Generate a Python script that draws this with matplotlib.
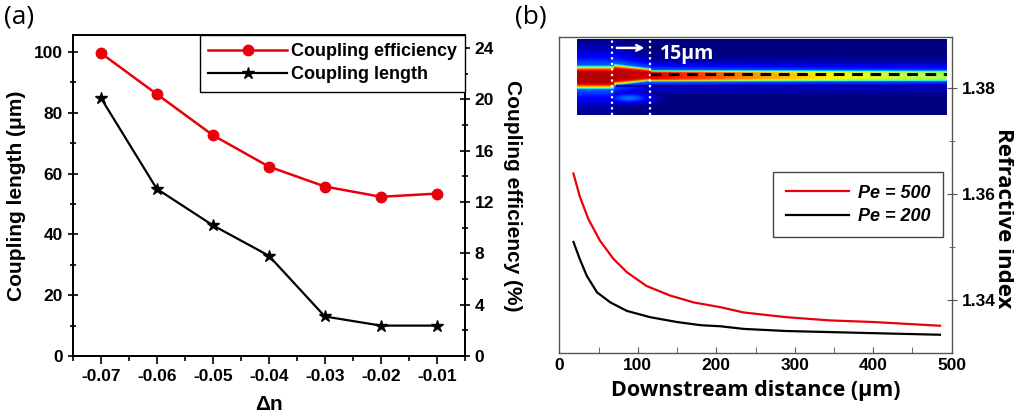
import numpy as np
import matplotlib
matplotlib.use('Agg')
import matplotlib.pyplot as plt
from matplotlib.lines import Line2D

# panel (a) data
delta_n = [-0.07, -0.06, -0.05, -0.04, -0.03, -0.02, -0.01]
coupling_length = [85, 55, 43, 33, 13, 10, 10]  # um
coupling_eff = [23.6, 20.4, 17.2, 14.75, 13.2, 12.4, 12.65]  # %

# panel (b) data
dist_500 = [18, 26, 37, 52, 69, 86, 111, 141, 171, 205, 235, 290, 345, 400, 485]
n_500 = [1.3639, 1.3596, 1.3553, 1.3512, 1.3478, 1.3453, 1.3427, 1.3409, 1.3396, 1.3387,
         1.3377, 1.3368, 1.3362, 1.3359, 1.3352]
dist_200 = [18, 26, 35, 48, 65, 86, 116, 150, 180, 205, 235, 290, 345, 400, 485]
n_200 = [1.3510, 1.3478, 1.3446, 1.3415, 1.3396, 1.3380, 1.3368, 1.3359, 1.3353, 1.3351,
         1.3346, 1.3342, 1.3340, 1.3338, 1.3335]

# inset field: intensity of the upper channel along its length (fraction of width)
chan_x = [0.0, 0.1, 0.2, 0.35, 0.5, 0.7, 0.85, 1.0]
chan_val = [1.0, 1.0, 0.97, 0.88, 0.78, 0.68, 0.62, 0.58]

BOLD = dict(family='Liberation Sans', weight='bold')
OPEN = dict(family='Open Sans', weight='bold')

fig = plt.figure(figsize=(10.14, 4.16), dpi=100)

# ---------------- panel (a) ----------------
ax = fig.add_axes([0.0717, 0.1442, 0.3869, 0.7716])
ax_r = ax.twinx()

ax.plot(delta_n, coupling_length, color='black', lw=1.6, marker='*', ms=9, zorder=3)
ax_r.plot(delta_n, coupling_eff, color='#e8000b', lw=1.8, marker='o', ms=7.5,
          markeredgecolor='#e8000b', zorder=3)

ax.set_xlim(-0.075, -0.005)
ax.set_ylim(0, 105.6)
ax_r.set_ylim(0, 25)
ax.set_xticks(delta_n)
ax.set_xticks(np.arange(-0.075, -0.004, 0.005), minor=True)
ax.set_xticklabels([f'{v:.2f}' for v in delta_n])
ax.set_yticks(range(0, 101, 20))
ax.set_yticks(range(10, 101, 20), minor=True)
ax_r.set_yticks(range(0, 25, 4))
ax_r.set_yticks(range(2, 25, 4), minor=True)

for a in (ax, ax_r):
    for s in a.spines.values():
        s.set_linewidth(1.3)
    for lab in a.get_xticklabels() + a.get_yticklabels():
        lab.set_fontproperties(BOLD)
        lab.set_fontsize(12.5)
ax.tick_params(axis='x', which='major', direction='out', length=6, width=1.2)
ax.tick_params(axis='x', which='minor', direction='out', length=3.5, width=1.2)
ax.tick_params(axis='y', which='major', direction='inout', length=7, width=1.2)
ax.tick_params(axis='y', which='minor', direction='inout', length=5, width=1.2)
ax_r.tick_params(axis='y', which='major', direction='inout', length=7, width=1.2)
ax_r.tick_params(axis='y', which='minor', direction='inout', length=5, width=1.2)

ax.set_xlabel('Δn', fontsize=15, labelpad=8, **BOLD)
ax.set_ylabel('Coupling length (μm)', fontsize=15, labelpad=6, **BOLD)
ax_r.set_ylabel('Coupling efficiency (%)', fontsize=15, rotation=270, labelpad=20, **BOLD)

handles = [Line2D([], [], color='#e8000b', lw=1.8, marker='o', ms=7.5),
           Line2D([], [], color='black', lw=1.6, marker='*', ms=9)]
leg = ax_r.legend(handles, ['Coupling efficiency', 'Coupling length'], loc='upper right',
                  bbox_to_anchor=(1, 1), borderaxespad=0, fancybox=False, framealpha=1,
                  edgecolor='black', handlelength=4.4,
                  prop=dict(family='Liberation Sans', weight='bold', size=13),
                  borderpad=0.45, labelspacing=0.35, handletextpad=0.2)
leg.get_frame().set_linewidth(1.0)

fig.text(0.004, 0.99, '(a)', fontsize=19, family='Open Sans', va='top', ha='left')

# ---------------- panel (b) ----------------
bx = fig.add_axes([0.5516, 0.1507, 0.3870, 0.7611])
bx.plot(dist_500, n_500, color='#e8000b', lw=1.6, label='Pe = 500')
bx.plot(dist_200, n_200, color='black', lw=1.6, label='Pe = 200')
bx.set_xlim(0, 500)
bx.set_ylim(1.330, 1.3897)
bx.yaxis.tick_right()
bx.set_xticks(range(0, 501, 100))
bx.set_xticks(range(50, 500, 100), minor=True)
bx.set_yticks([1.34, 1.36, 1.38])
bx.set_yticks([1.35, 1.37], minor=True)
bx.set_yticklabels(['1.34', '1.36', '1.38'])
for s in bx.spines.values():
    s.set_color('#555555')
    s.set_linewidth(1.0)
bx.tick_params(axis='x', which='both', direction='in', length=4, color='#555555')
bx.tick_params(axis='y', which='major', direction='inout', length=7, color='#555555')
bx.tick_params(axis='y', which='minor', direction='inout', length=5, color='#555555')
for lab in bx.get_xticklabels() + bx.get_yticklabels():
    lab.set_fontproperties(BOLD)
    lab.set_fontsize(12.5)
bx.set_xlabel('Downstream distance (μm)', fontsize=15.5, labelpad=5, **OPEN)
fig.text(1003 / 1014, 1 - 218 / 416, 'Refractive index', fontsize=16, rotation=270,
         ha='center', va='center', **OPEN)

leg2 = bx.legend(loc='upper right', bbox_to_anchor=(0.978, 0.573), borderaxespad=0,
                 fancybox=False, framealpha=1, edgecolor='#444444', handlelength=3.5,
                 prop=dict(family='Liberation Sans', weight='bold', style='italic', size=13),
                 borderpad=0.7, labelspacing=0.35, handletextpad=0.5)
leg2.get_frame().set_linewidth(1.0)

fig.text(0.508, 0.99, '(b)', fontsize=19, family='Open Sans', va='top', ha='left')

# inset simulation field
ins = bx.inset_axes([22.6, 1.375, 471.4, 0.0143], transform=bx.transData)
nx, ny = 500, 90
xx = np.linspace(0, 1, nx)[None, :]
yy = np.linspace(0, 1, ny)[:, None]  # 0 = top
amp = np.interp(xx, chan_x, chan_val)
yc = np.where(xx < 0.1, 0.505, np.where(xx < 0.2, 0.47, 0.485))
half = np.where(xx < 0.1, 0.15, np.where(xx < 0.2, 0.14 - 0.6 * (xx - 0.1), 0.075))
core = amp * np.exp(-((yy - yc) / half) ** 6)
halo = 0.32 * np.exp(-((yy - yc) / (half * 1.9)) ** 2)
field = np.maximum(core, halo * (0.5 + 0.5 * amp))
glow = 0.25 * np.exp(-((xx - 0.14) / 0.06) ** 2 - ((yy - 0.78) / 0.07) ** 2)
field = np.maximum(field, glow)
# dark separating wall under the channel downstream of the junction
wall = (yy > 0.6) & (yy < 0.63) & (xx > 0.105)
field = np.where(wall, field * 0.3, field)
ins.imshow(field, cmap='jet', vmin=0, vmax=1.05, aspect='auto', extent=[0, 1, 1, 0],
           interpolation='bilinear')
ins.set_xlim(0, 1)
ins.set_ylim(1, 0)
ins.axis('off')
ins.axvline(0.095, color='white', ls=(0, (1, 1.5)), lw=1.6)
ins.axvline(0.196, color='white', ls=(0, (1, 1.5)), lw=1.6)
ins.plot([0.196, 1.0], [0.47, 0.47], color='black', ls=(0, (3.5, 2.5)), lw=2.2)
ins.annotate('', xy=(0.19, 0.12), xytext=(0.1, 0.12),
             arrowprops=dict(arrowstyle='->', color='white', lw=1.8))
ins.text(0.225, 0.2, '15μm', color='white', fontsize=14, va='center', ha='left', **OPEN)

fig.savefig('out.png', dpi=100)
